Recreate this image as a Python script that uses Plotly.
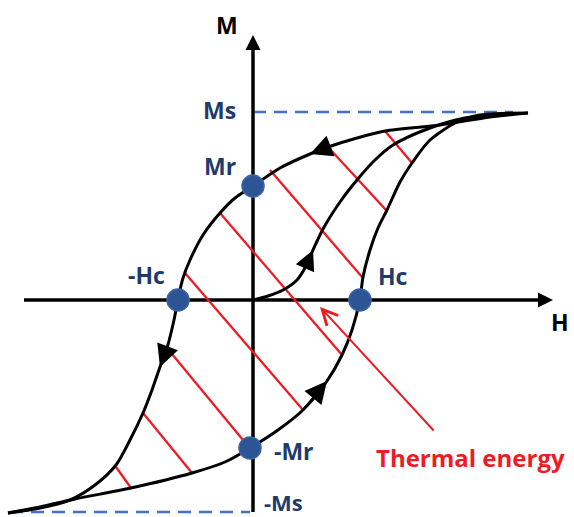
import plotly.graph_objects as go

# ---- data (H, M in arbitrary units; origin at axis crossing) ----
MS_POS = 1.88
MS_NEG = -2.12

desc_H = [2.75, 2.37, 1.87, 1.32, 1.04, 0.75, 0.57, 0.27, 0.00, -0.18, -0.33, -0.50, -0.63, -0.70, -0.75,
          -0.79, -0.86, -0.93, -1.01, -1.10, -1.23, -1.37, -1.58, -1.83, -2.13, -2.45]
desc_M = [1.87, 1.83, 1.75, 1.69, 1.62, 1.53, 1.46, 1.32, 1.14, 1.02, 0.87, 0.65, 0.40, 0.22, 0.01,
          -0.20, -0.48, -0.67, -0.90, -1.13, -1.40, -1.65, -1.85, -2.00, -2.08, -2.13]

asc_H = [-2.45, -2.13, -1.78, -1.22, -0.61, -0.28, -0.03, 0.25, 0.50, 0.74, 0.89, 0.99, 1.07, 1.10, 1.17,
         1.25, 1.34, 1.47, 1.59, 1.77, 2.04, 2.27, 2.75]
asc_M = [-2.13, -2.07, -1.99, -1.88, -1.73, -1.62, -1.48, -1.30, -1.10, -0.81, -0.55, -0.30, 0.01, 0.23, 0.50,
         0.72, 0.90, 1.18, 1.37, 1.60, 1.78, 1.85, 1.87]

virgin_H = [0.00, 0.15, 0.30, 0.44, 0.53, 0.60, 0.70, 0.87, 1.04, 1.22, 1.40, 1.77, 2.12, 2.47]
virgin_M = [0.00, 0.04, 0.10, 0.20, 0.34, 0.50, 0.71, 0.98, 1.20, 1.40, 1.55, 1.72, 1.82, 1.85]

hatch_H0 = [1.32, 0.75, 0.17, -0.33, -0.68, -0.86, -1.10, -1.37]
hatch_M0 = [1.69, 1.53, 1.30, 0.87, 0.27, -0.48, -1.13, -1.67]
hatch_H1 = [1.59, 1.33, 1.09, 0.89, 0.50, -0.10, -0.61, -1.22]
hatch_M1 = [1.37, 0.90, 0.23, -0.55, -1.10, -1.40, -1.73, -1.88]

pt_labels = ["Mr", "-Mr", "Hc", "-Hc"]
pt_H = [0.00, -0.03, 1.07, -0.75]
pt_M = [1.14, -1.48, 0.00, 0.00]

H_axis = [-2.29, 3.00]
M_axis = [-2.12, 2.65]

thermal_tail = (1.82, -1.32)
thermal_head = (0.67, -0.07)

NAVY = "#1F3A6B"
RED = "#ED1C24"
FONT = "Open Sans"

fig = go.Figure()

# dashed saturation lines
fig.add_trace(go.Scatter(x=[0.0, 2.60, None, -2.43, -0.03], y=[MS_POS, MS_POS, None, MS_NEG, MS_NEG],
                         mode="lines", line=dict(color="#4472C4", width=2.5, dash="13px,8px"), hoverinfo="skip"))
# axes
fig.add_trace(go.Scatter(x=[H_axis[0], H_axis[1] - 0.05, None, 0, 0], y=[0, 0, None, M_axis[0], M_axis[1] - 0.05],
                         mode="lines", line=dict(color="black", width=3.5), hoverinfo="skip"))
# hatch lines
hx, hy = [], []
for a, b, c, d in zip(hatch_H0, hatch_M0, hatch_H1, hatch_M1):
    hx += [a, c, None]
    hy += [b, d, None]
fig.add_trace(go.Scatter(x=hx, y=hy, mode="lines", line=dict(color=RED, width=2.3), hoverinfo="skip"))
# curves
for cx, cy in [(desc_H, desc_M), (asc_H, asc_M), (virgin_H, virgin_M)]:
    fig.add_trace(go.Scatter(x=cx, y=cy, mode="lines", line=dict(color="black", width=3, shape="spline", smoothing=0.8),
                             hoverinfo="skip"))
# points
fig.add_trace(go.Scatter(x=pt_H, y=pt_M, mode="markers",
                         marker=dict(size=22, color="#2D5596", line=dict(color="#3B64A3", width=1.5)),
                         hoverinfo="skip"))

ann = []
def arrow(head, tail, color="black", width=2.5, size=1.2, style=2):
    ann.append(dict(x=head[0], y=head[1], ax=tail[0], ay=tail[1], xref="x", yref="y", axref="x", ayref="y",
                    text="", showarrow=True, arrowhead=style, arrowsize=size, arrowwidth=width, arrowcolor=color,
                    standoff=0, startstandoff=0))

# axis arrowheads
arrow((H_axis[1], 0), (H_axis[1] - 0.12, 0), width=3, size=1.0)
arrow((0, M_axis[1]), (0, M_axis[1] - 0.12), width=3, size=1.0)
# curve direction arrows (between successive curve points)
arrow((desc_H[6], desc_M[6]), (desc_H[5], desc_M[5]), width=2, size=2.2)
arrow((desc_H[17], desc_M[17]), (desc_H[16], desc_M[16]), width=2, size=2.2)
arrow((asc_H[9], asc_M[9]), (asc_H[8], asc_M[8]), width=2, size=2.2)
arrow((virgin_H[5], virgin_M[5]), (virgin_H[4], virgin_M[4]), width=2, size=2.0)
# thermal energy arrow
arrow(thermal_head, thermal_tail, color=RED, width=2, size=1.5, style=5)

def label(x, y, text, color=NAVY, xanchor="center", size=23):
    ann.append(dict(x=x, y=y, xref="x", yref="y", text="<b>%s</b>" % text, showarrow=False,
                    xanchor=xanchor, yanchor="middle", font=dict(family=FONT, size=size, color=color)))

label(-0.26, 2.75, "M", color="black")
label(3.07, -0.22, "H", color="black")
label(-0.15, 1.90, "Ms", xanchor="right")
label(-0.15, 1.34, "Mr", xanchor="right")
label(-0.86, 0.25, "-Hc", xanchor="right")
label(1.23, 0.24, "Hc", xanchor="left")
label(0.19, -1.51, "-Mr", xanchor="left")
label(0.09, -2.02, "-Ms", xanchor="left", size=22)
label(2.17, -1.57, "Thermal energy", color=RED, size=24)

fig.update_layout(
    width=574, height=517, margin=dict(l=0, r=0, t=0, b=0),
    paper_bgcolor="white", plot_bgcolor="white", showlegend=False,
    xaxis=dict(range=[-2.53, 3.21], visible=False, fixedrange=True),
    yaxis=dict(range=[-2.17, 3.00], visible=False, fixedrange=True),
    annotations=ann,
)

fig.write_html("out.html", config={"displayModeBar": False},
               post_script="document.body.style.margin='0px';document.body.style.overflow='hidden';")
